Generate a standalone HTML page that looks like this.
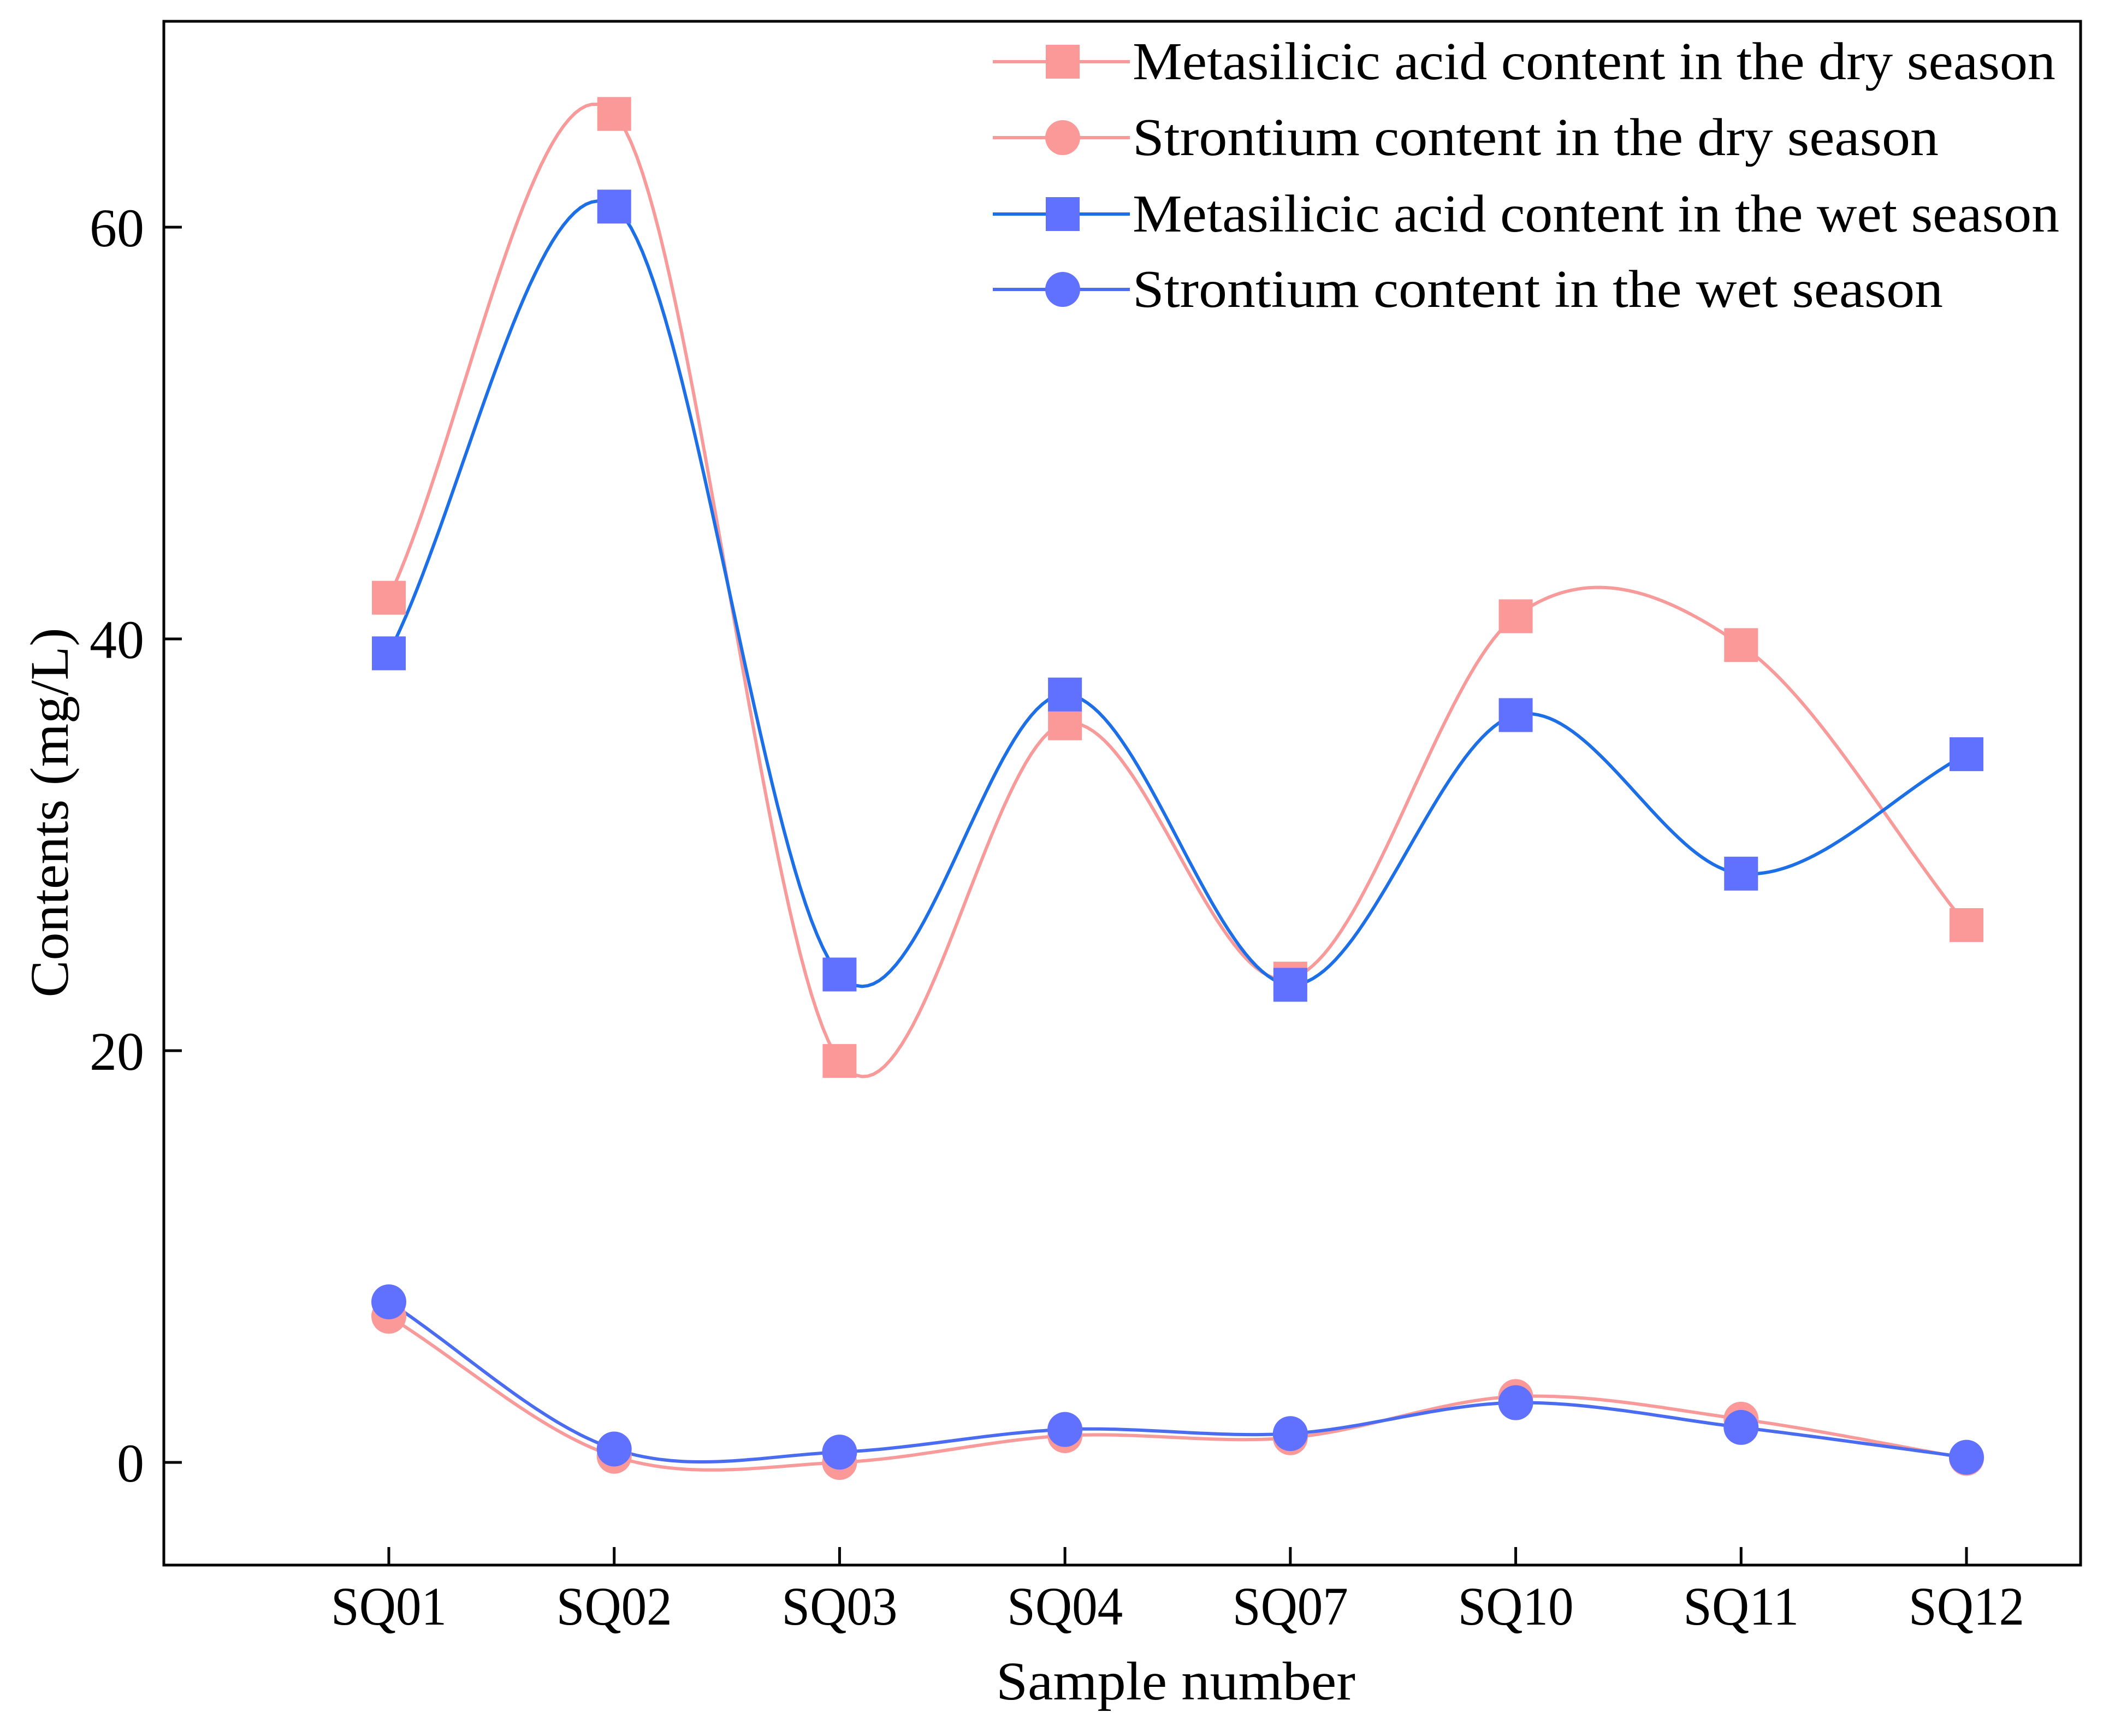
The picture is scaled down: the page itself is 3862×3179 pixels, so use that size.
<!DOCTYPE html>
<html><head><meta charset="utf-8"><style>
html,body{margin:0;padding:0;background:#fff}
svg{display:block}
text{font-family:"Liberation Serif",serif;fill:#000}
</style></head><body>
<svg id="chart" width="3862" height="3179" viewBox="0 0 3862 3179" xmlns="http://www.w3.org/2000/svg">
<rect x="0" y="0" width="3862" height="3179" fill="#fff"/>
<g id="series"></g>
<g id="axes"></g>
<g id="legend"></g>
</svg>
<script>
const categories = ["SQ01","SQ02","SQ03","SQ04","SQ07","SQ10","SQ11","SQ12"];
const dryMetasilicic = [42.0,65.5,19.5,35.9,23.5,41.1,39.7,26.1];
const wetMetasilicic = [39.3,61.0,23.7,37.3,23.2,36.3,28.6,34.4];
const drySr = [7.1,0.3,0.0,1.3,1.2,3.2,2.1,0.2];
const wetSr = [7.8,0.65,0.5,1.6,1.4,2.9,1.7,0.25];
const yTicks = [0,20,40,60];
const legendLabels = ["Metasilicic acid content in the dry season","Strontium content in the dry season","Metasilicic acid content in the wet season","Strontium content in the wet season"];

const NS="http://www.w3.org/2000/svg";
const L=300,R=3810,T=39,B=2866;
const X0=712,X1=3601;
const Y0px=2678,Y60px=416;
function xs(i){return X0+i*(X1-X0)/(categories.length-1);}
function ys(v){return Y0px+(Y60px-Y0px)*v/60;}
function mk(tag,attrs,parent){const e=document.createElementNS(NS,tag);for(const k in attrs)e.setAttribute(k,attrs[k]);parent.appendChild(e);return e;}

function spline(vals){
  const n=vals.length,m=[];
  for(let i=0;i<n;i++){
    if(i===0)m.push(vals[1]-vals[0]);
    else if(i===n-1)m.push(vals[n-1]-vals[n-2]);
    else m.push((vals[i+1]-vals[i-1])/2);
  }
  const pts=[];
  for(let j=0;j<n-1;j++){for(let s=0;s<=40;s++){if(j>0&&s===0)continue;const t=s/40,t2=t*t,t3=t2*t;
    const v=(2*t3-3*t2+1)*vals[j]+(t3-2*t2+t)*m[j]+(-2*t3+3*t2)*vals[j+1]+(t3-t2)*m[j+1];
    pts.push([xs(j+t),ys(v)]);}}
  return pts;
}

const sg=document.getElementById('series');
const seriesDefs=[
  {vals:dryMetasilicic,line:"#F99A9A",fill:"#FB9898",shape:"sq",name:"dry-metasilicic"},
  {vals:drySr,line:"#F99A9A",fill:"#FB9898",shape:"ci",name:"dry-strontium"},
  {vals:wetMetasilicic,line:"#1C6FE6",fill:"#6070FF",shape:"sq",name:"wet-metasilicic"},
  {vals:wetSr,line:"#4A6CF0",fill:"#6070FF",shape:"ci",name:"wet-strontium"}
];
function marker(shape,cx,cy,fill,parent){
  if(shape==="sq") return mk('rect',{x:cx-31,y:cy-31,width:62,height:62,fill:fill},parent);
  return mk('circle',{cx:cx,cy:cy,r:32,fill:fill},parent);
}
seriesDefs.forEach(s=>{
  const g=mk('g',{},sg);
  
  
  const p=mk('path',{d:"M"+spline(s.vals).map(q=>q[0].toFixed(1)+","+q[1].toFixed(1)).join("L"),fill:"none",stroke:s.line,"stroke-width":6},g);
  
  
});
seriesDefs.forEach(s=>{
  s.vals.forEach((v,i)=>{
    const m=marker(s.shape,xs(i),ys(v),s.fill,sg);
    
    
  });
});

const ax=document.getElementById('axes');
const fr=mk('rect',{x:L,y:T,width:R-L,height:B-T,fill:"none",stroke:"#000","stroke-width":5},ax);


yTicks.forEach(v=>{
  const tk=mk('line',{x1:L,x2:L+33,y1:ys(v),y2:ys(v),stroke:"#000","stroke-width":5},ax);
  
  
  const t=mk('text',{x:264,y:ys(v)+35,"text-anchor":"end","font-size":100},ax);
  t.textContent=v;
  
  
});
categories.forEach((c,i)=>{
  const tk=mk('line',{x1:xs(i),x2:xs(i),y1:B,y2:B-33,stroke:"#000","stroke-width":5},ax);
  
  
  const t=mk('text',{x:xs(i),y:2975,"text-anchor":"middle","font-size":100,textLength:212,lengthAdjust:"spacingAndGlyphs"},ax);
  t.textContent=c;
  
  
});
const xt=mk('text',{x:2153,y:3112,"text-anchor":"middle","font-size":100,textLength:658,lengthAdjust:"spacingAndGlyphs"},ax);
xt.textContent="Sample number";


const yt=mk('text',{x:0,y:0,"text-anchor":"middle","font-size":100,textLength:677,lengthAdjust:"spacingAndGlyphs",transform:"translate(124,1488) rotate(-90)"},ax);
yt.textContent="Contents (mg/L)";



const lg=document.getElementById('legend');
const rows=[113,252,392,530];
const widths=[1690,1476,1697,1484];
seriesDefs.forEach((s,i)=>{
  const g=mk('g',{},lg);
  
  
  mk('line',{x1:1818,x2:2069,y1:rows[i],y2:rows[i],stroke:s.line,"stroke-width":6},g);
  marker(s.shape,1946,rows[i],s.fill,g);
  const t=mk('text',{x:2074,y:rows[i]+32,"font-size":98,textLength:widths[i],lengthAdjust:"spacingAndGlyphs"},g);
  t.textContent=legendLabels[i];
  
  
});
</script>
</body></html>
